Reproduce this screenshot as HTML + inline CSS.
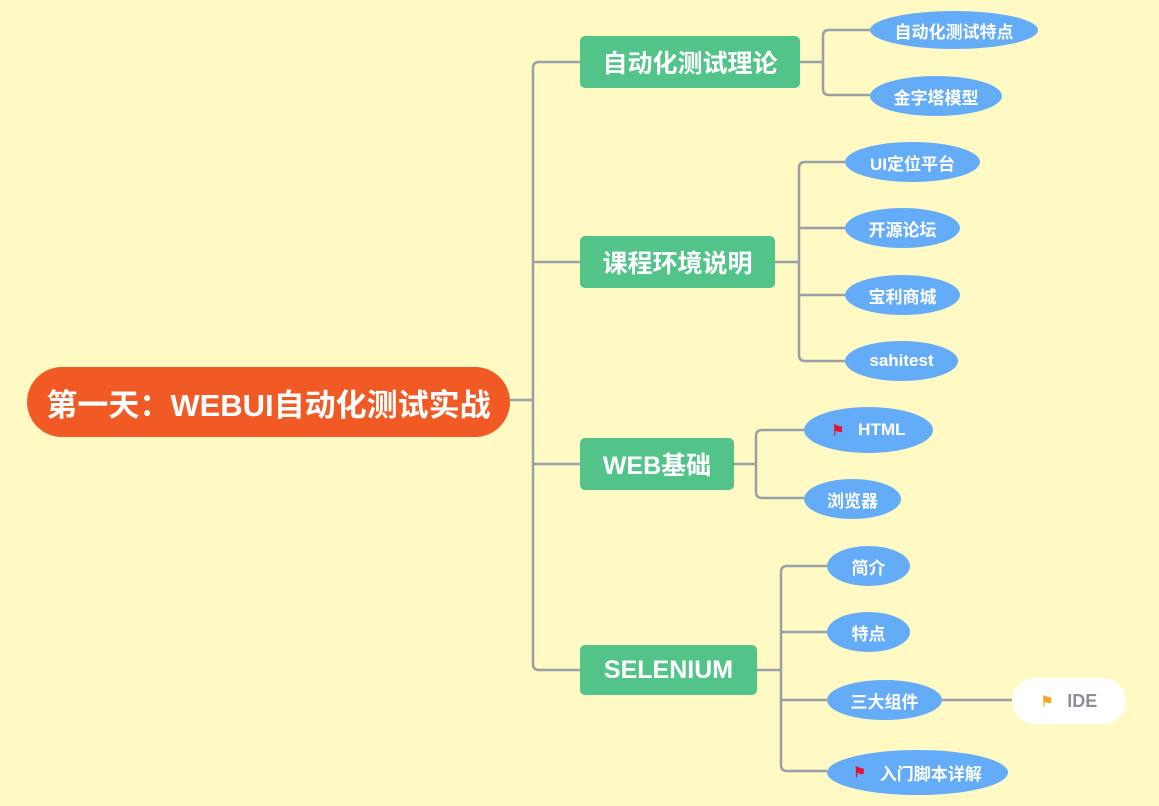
<!DOCTYPE html>
<html><head><meta charset="utf-8"><style>
body{margin:0;width:1159px;height:806px;background:#FFF9C4;overflow:hidden;position:relative;font-family:"Liberation Sans","Noto Sans CJK SC",sans-serif;}
.n{position:absolute;display:flex;align-items:center;justify-content:center;color:#fff;font-weight:bold;box-sizing:border-box;white-space:nowrap;}
.g{background:#52C48A;border-radius:5px;font-size:25px;}
.e{background:#64ACF8;border-radius:50%;font-size:17px;}
.flag{color:#E8112D;font-size:14px;margin-right:14px;}
</style></head><body>
<svg width="1159" height="806" style="position:absolute;left:0;top:0" fill="none" stroke="#9AA0A6" stroke-width="2.5">
<path d="M510 400H533"/>
<path d="M580 62H539Q533 62 533 68V664Q533 670 539 670H580"/>
<path d="M533 262H580M533 464H580"/>
<path d="M800 62H823M870 30H829Q823 30 823 36V89Q823 95 829 95H870"/>
<path d="M775 262H799M845 162H805Q799 162 799 168V355Q799 361 805 361H845M799 228H845M799 295H845"/>
<path d="M734 464H756M804 430H762Q756 430 756 436V492Q756 498 762 498H804"/>
<path d="M757 670H781M827 566H787Q781 566 781 572V765Q781 771 787 771H827M781 632H827M781 700H827"/>
<path d="M942 700H1012"/>
</svg>
<div class="n" style="left:27px;top:367px;width:483px;height:70px;background:#F15A24;border-radius:35px;font-size:31px;">第一天：WEBUI自动化测试实战</div>
<div class="n g" style="left:580px;top:36px;width:220px;height:52px;">自动化测试理论</div>
<div class="n g" style="left:580px;top:236px;width:195px;height:52px;">课程环境说明</div>
<div class="n g" style="left:580px;top:438px;width:154px;height:52px;">WEB基础</div>
<div class="n g" style="left:580px;top:645px;width:177px;height:50px;">SELENIUM</div>
<div class="n e" style="left:870px;top:11px;width:168px;height:38px;">自动化测试特点</div>
<div class="n e" style="left:870px;top:76px;width:132px;height:40px;">金字塔模型</div>
<div class="n e" style="left:845px;top:142px;width:135px;height:40px;">UI定位平台</div>
<div class="n e" style="left:845px;top:208px;width:115px;height:40px;">开源论坛</div>
<div class="n e" style="left:845px;top:275px;width:115px;height:40px;">宝利商城</div>
<div class="n e" style="left:845px;top:341px;width:113px;height:40px;">sahitest</div>
<div class="n e" style="left:804px;top:407px;width:129px;height:46px;"><span class="flag">⚑</span>HTML</div>
<div class="n e" style="left:804px;top:479px;width:97px;height:40px;">浏览器</div>
<div class="n e" style="left:827px;top:546px;width:83px;height:40px;">简介</div>
<div class="n e" style="left:827px;top:612px;width:83px;height:40px;">特点</div>
<div class="n e" style="left:827px;top:680px;width:115px;height:40px;">三大组件</div>
<div class="n e" style="left:827px;top:750px;width:181px;height:45px;"><span class="flag">⚑</span>入门脚本详解</div>
<div class="n" style="left:1012px;top:678px;width:114px;height:46px;background:#fff;border-radius:23px;color:#8a8f99;font-size:18px;"><span class="flag" style="color:#F5A623">⚑</span>IDE</div>
</body></html>
